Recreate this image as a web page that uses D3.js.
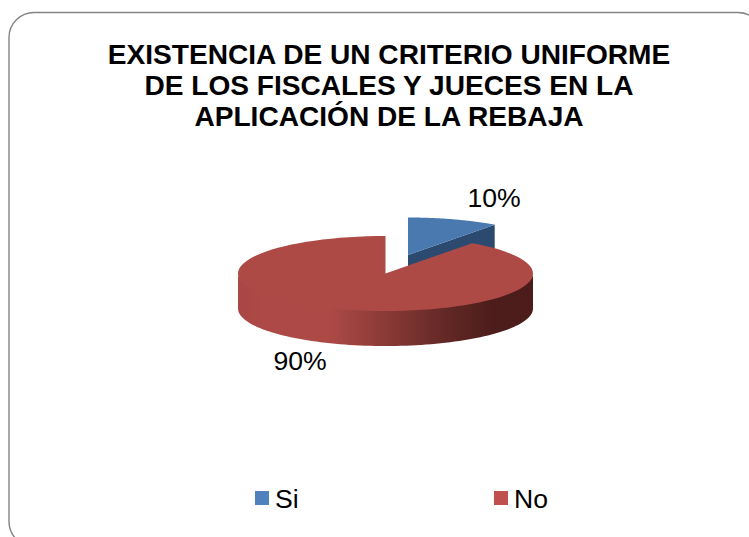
<!DOCTYPE html>
<html>
<head>
<meta charset="utf-8">
<script src="https://cdnjs.cloudflare.com/ajax/libs/d3/7.9.0/d3.min.js"></script>
<style>
html,body{margin:0;padding:0;background:#fff;overflow:hidden}
svg{display:block;font-family:"Liberation Sans",Arial,sans-serif}
</style>
</head>
<body>
<svg id="chart" width="749" height="537"></svg>
<script>
const titleLines = ["EXISTENCIA DE UN CRITERIO UNIFORME", "DE LOS FISCALES Y JUECES EN LA", "APLICACIÓN DE LA REBAJA"];
const categories = ["Si", "No"];
const values = [10, 90];
const swatchColors = ["#4f81bd", "#c0504d"];
const topColors = ["#4a79b0", "#ae4a46"];
const wallColors = ["#2c4a70", "#ae4a46"];

const svg = d3.select("#chart");

// Chart frame; its right and bottom edges run past the page
svg.append("rect")
  .attr("x", 9).attr("y", 12.5)
  .attr("width", 754).attr("height", 534)
  .attr("rx", 25).attr("ry", 25)
  .attr("fill", "#fff").attr("stroke", "#848484").attr("stroke-width", 1.4);

svg.append("g").selectAll("text").data(titleLines).join("text")
  .attr("x", 389).attr("y", (d, i) => 64 + i * 31)
  .attr("text-anchor", "middle")
  .attr("font-size", 28.1).attr("font-weight", "bold").attr("fill", "#000")
  .text(d => d);

// Pie geometry
const rx = 147.5, ry = 37.5, depth = 35;
const centers = [{x: 408, y: 255}, {x: 385.5, y: 273.5}];
const pie = d3.pie().sort(null).value(d => d);
const slices = pie(values);

const pt = (c, a, dy = 0, k = 1) => [c.x + rx * Math.sin(a), c.y - ry * k * Math.cos(a) + dy];

function sectorPath(c, s) {
  const n = 90, pts = [];
  for (let i = 0; i <= n; i++) pts.push(pt(c, s.startAngle + (s.endAngle - s.startAngle) * i / n));
  return "M" + [c.x, c.y] + "L" + pts.join("L") + "Z";
}
// Front wall; its upper edge tucks under the top face so no light seam shows
function rimPath(c, a0, a1) {
  const n = 90, up = [], down = [];
  for (let i = 0; i <= n; i++) {
    const a = a0 + (a1 - a0) * i / n;
    up.push(pt(c, a, 0, 0.9));
    down.unshift(pt(c, a, depth));
  }
  return "M" + up.join("L") + "L" + down.join("L") + "Z";
}

const defs = svg.append("defs");
const grad = defs.append("linearGradient").attr("id", "rimShade")
  .attr("gradientUnits", "userSpaceOnUse")
  .attr("x1", centers[1].x - rx).attr("x2", centers[1].x + rx).attr("y1", 0).attr("y2", 0);
[[0, "#a94745"], [0.08, "#ad4946"], [0.3, "#ae4a46"], [0.5, "#8a3a37"],
 [0.72, "#602724"], [0.86, "#4d1d1b"], [1, "#4a1c1a"]]
  .forEach(([o, col]) => grad.append("stop").attr("offset", o).attr("stop-color", col));

// "Si" slice, pulled out behind the main slice
const si = slices[0], no = slices[1];
const c0 = centers[0], c1 = centers[1];
svg.append("path")
  .attr("d", "M" + [pt(c0, 0), pt(c0, 0, depth), [c0.x, c0.y + depth], [c0.x, c0.y]].join("L") + "Z")
  .attr("fill", wallColors[0]);
svg.append("path")
  .attr("d", "M" + [[c0.x, c0.y], [c0.x, c0.y + depth], pt(c0, si.endAngle, depth), pt(c0, si.endAngle)].join("L") + "Z")
  .attr("fill", wallColors[0]);
svg.append("path").attr("d", sectorPath(c0, si)).attr("fill", topColors[0]);

// "No" slice: front wall, then top face
svg.append("path").attr("d", rimPath(c1, Math.PI / 2, 3 * Math.PI / 2)).attr("fill", "url(#rimShade)");
svg.append("path").attr("d", sectorPath(c1, no)).attr("fill", topColors[1]);

// Value labels
const labelPos = [[494, 207], [300, 370]];
svg.append("g").selectAll("text").data(values).join("text")
  .attr("x", (d, i) => labelPos[i][0]).attr("y", (d, i) => labelPos[i][1])
  .attr("text-anchor", "middle").attr("font-size", 26.6).attr("fill", "#000")
  .text(d => d + "%");

// Legend
const legendX = [255, 494];
const legend = svg.append("g").selectAll("g").data(categories).join("g")
  .attr("transform", (d, i) => `translate(${legendX[i]},491)`);
legend.append("rect").attr("width", 14).attr("height", 14).attr("fill", (d, i) => swatchColors[i]);
legend.append("text").attr("x", 20).attr("y", 16.5).attr("font-size", 26.6).attr("fill", "#000").text(d => d);
</script>
</body>
</html>
